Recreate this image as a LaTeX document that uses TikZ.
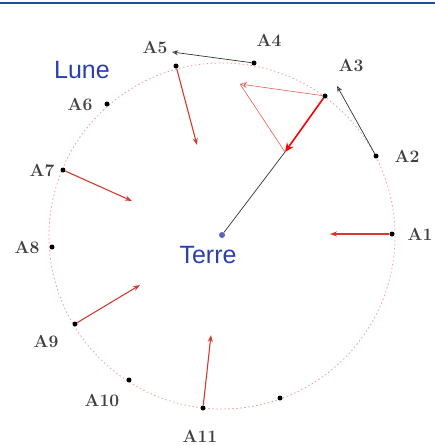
\documentclass[tikz,border=0pt]{standalone}
\usepackage{fontspec}
\newfontfamily\sansfont{Liberation Sans}
\usetikzlibrary{arrows.meta}
\definecolor{lblue}{HTML}{2B3FB0}
\definecolor{topblue}{HTML}{1F4E8C}
\definecolor{vred}{HTML}{D8392E}
\definecolor{circ}{HTML}{EBA0A0}
\tikzset{
  pt/.style={circle,fill=black,inner sep=0pt,minimum size=5pt},
  lbl/.style={font=\bfseries\fontsize{17.5}{17.5}\selectfont, text=black!75},
  vec/.style={vred,line width=1.1pt,-{Stealth[length=7pt,width=5pt]}},
  bvec/.style={black!80,line width=0.7pt,-{Stealth[open,length=6pt,width=5pt]}},
  tvec/.style={vred!80,line width=0.6pt},
  moon/.style={font=\sansfont\fontsize{25}{25}\selectfont, text=lblue}
}
\begin{document}
\begin{tikzpicture}[x=1pt,y=-1pt]
\useasboundingbox (0,0) rectangle (435,445);
\fill[white] (0,0) rectangle (435,445);
\draw[topblue,line width=2pt] (0,3) -- (435,3);
\draw[circ,line width=0.8pt,dash pattern=on 1.5pt off 2.5pt] (222,236) circle[radius=173];
% points
\node[pt] (A1) at (392,234) {};
\node[pt] (A2) at (376,156) {};
\node[pt] (A3) at (325,96) {};
\node[pt] (A4) at (254,63) {};
\node[pt] (A5) at (176,66) {};
\node[pt] (A6) at (107,104) {};
\node[pt] (A7) at (63,170) {};
\node[pt] (A8) at (52,247) {};
\node[pt] (A9) at (75,324) {};
\node[pt] (A10) at (129,380) {};
\node[pt] (A11) at (203,408) {};
\node[pt] (A12) at (280,398) {};
\node[circle,fill=lblue!80,inner sep=0pt,minimum size=6pt] (T) at (222,235) {};
% labels
\node[lbl] at (420,234) {A\oldstylenums{1}};
\node[lbl] at (407,156) {A\oldstylenums{2}};
\node[lbl] at (351,65) {A\oldstylenums{3}};
\node[lbl] at (269,40) {A\oldstylenums{4}};
\node[lbl] at (155,47) {A\oldstylenums{5}};
\node[lbl] at (80,104) {A\oldstylenums{6}};
\node[lbl] at (42,170) {A\oldstylenums{7}};
\node[lbl] at (27,247) {A\oldstylenums{8}};
\node[lbl] at (46,341) {A\oldstylenums{9}};
\node[lbl] at (102,400) {A\oldstylenums{10}};
\node[lbl] at (200,436) {A\oldstylenums{11}};
\node[moon] at (82,70) {Lune};
\node[moon] at (208,255) {Terre};
% coordinates
\coordinate (e1) at (330,234);
\coordinate (e2) at (337,86);
\coordinate (e3) at (285,152);
\coordinate (e3b) at (240,84);
\coordinate (e4) at (172,52);
\coordinate (e5) at (197,145);
\coordinate (e7) at (132,201);
\coordinate (e9) at (140,285);
\coordinate (e11) at (211,335);
% lines
\draw[black!80,line width=0.7pt] (T) -- (e3);
\draw[tvec,-{Stealth[open,length=7pt,width=6pt]}] (A3) -- (e3b);
\draw[tvec] (e3b) -- (e3);
\draw[red,line width=1.6pt,-{Stealth[length=9pt,width=8pt]}] (A3) -- (e3);
\draw[bvec] (A2) -- (e2);
\draw[bvec] (A4) -- (e4);
\draw[vec] (A1) -- (e1);
\draw[vec] (A5) -- (e5);
\draw[vec] (A7) -- (e7);
\draw[vec] (A9) -- (e9);
\draw[vec] (A11) -- (e11);
\end{tikzpicture}
\end{document}
